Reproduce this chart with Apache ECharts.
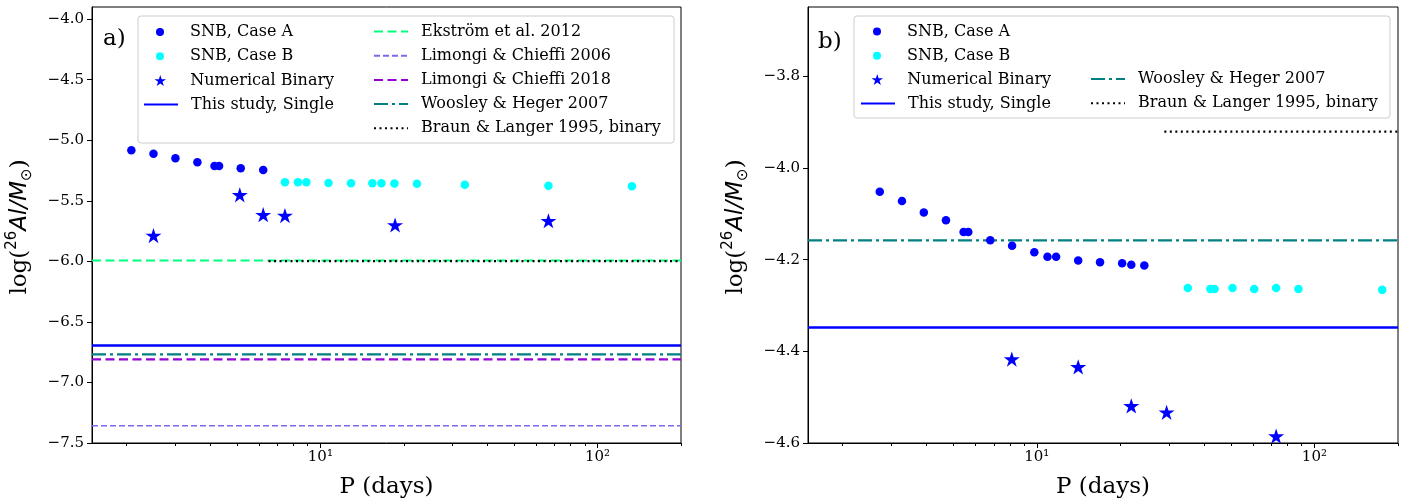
<!DOCTYPE html>
<html><head><meta charset="utf-8">
<script src="https://cdn.jsdelivr.net/npm/echarts@6.0.0/dist/echarts.min.js"></script>
<style>html,body{margin:0;padding:0;background:#fff}#c{width:1406px;height:504px}</style>
</head><body><div id="c"></div>
<script>
// ---------- data: panel a ----------
const aCaseA_P = [2.08, 2.5, 3.0, 3.6, 4.15, 4.31, 5.16, 6.22];
const aCaseA_Y = [-5.083, -5.112, -5.148, -5.181, -5.213, -5.213, -5.231, -5.246];
const aCaseB_P = [7.45, 8.3, 8.9, 10.7, 12.9, 15.4, 16.6, 18.5, 22.3, 33.2, 66.5, 133];
const aCaseB_Y = [-5.347, -5.347, -5.348, -5.353, -5.355, -5.356, -5.356, -5.357, -5.36, -5.368, -5.375, -5.38];
const aStar_P = [2.5, 5.12, 6.22, 7.45, 18.6, 66.5];
const aStar_Y = [-5.787, -5.451, -5.615, -5.622, -5.7, -5.665];
const aThisStudy = -6.695;
const aEkstrom = -5.993;
const aLimongi2006 = -7.357;
const aLimongi2018 = -6.81;
const aWoosley = -6.769;
const aBraun = -5.998;
const aBraunStartP = 6.5;

// ---------- data: panel b ----------
const bCaseA_P = [2.72, 3.27, 3.92, 4.71, 5.45, 5.67, 6.8, 8.15, 9.8, 10.93, 11.74, 14.1, 16.9, 20.3, 21.9, 24.4];
const bCaseA_Y = [-4.052, -4.072, -4.097, -4.114, -4.14, -4.14, -4.158, -4.17, -4.184, -4.194, -4.194, -4.202, -4.206, -4.208, -4.211, -4.213];
const bCaseB_P = [35.0, 42.2, 43.7, 50.7, 60.7, 72.8, 87.6, 175.5];
const bCaseB_Y = [-4.262, -4.264, -4.264, -4.262, -4.264, -4.262, -4.264, -4.266];
const bStar_P = [8.13, 14.1, 21.9, 29.35, 72.8];
const bStar_Y = [-4.417, -4.434, -4.519, -4.533, -4.585];
const bThisStudy = -4.348;
const bWoosley = -4.158;
const bBraun = -3.921;
const bBraunStartP = 28.8;

// ---------- axes ----------
const xMin = 1.5, xMax = 200;
const xMajor = [10, 100];
const xMajorLabels = ['10\u00B9', '10\u00B2'];
const xMinor = [2,3,4,5,6,7,8,9,20,30,40,50,60,70,80,90,200];
const aYMin = -7.5, aYMax = -3.9;
const aYTicks = [-7.5, -7.0, -6.5, -6.0, -5.5, -5.0, -4.5, -4.0];
const bYMin = -4.6, bYMax = -3.649;
const bYTicks = [-4.6, -4.4, -4.2, -4.0, -3.8];

const SERIF = 'DejaVu Serif';
const SANS = 'DejaVu Sans';
const zip = (a, b) => a.map((v, i) => [v, b[i]]);
const STAR = 'path://M0,-10L2.245,-3.09L9.511,-3.09L3.633,1.18L5.878,8.09L0,3.82L-5.878,8.09L-3.633,1.18L-9.511,-3.09L-2.245,-3.09Z';

const C = {
  blue: '#0000ff', cyan: '#00ffff', green: '#00ff7f', lim06: '#7b68ee',
  lim18: '#9400d3', teal: '#008080', black: '#000000'
};
const LS = {
  this: {color: C.blue, width: 2.5, type: 'solid'},
  ek: {color: C.green, width: 2.2, type: [9, 4.5]},
  l06: {color: C.lim06, width: 1.5, type: [6, 3]},
  l18: {color: C.lim18, width: 2.2, type: [9, 4.5]},
  wh: {color: C.teal, width: 2.2, type: [14, 4, 3, 4]},
  br: {color: C.black, width: 2.2, type: [2, 3.5]}
};

function xAxes(gi) {
  return [{
    type: 'log', logBase: 10, gridIndex: gi, min: xMin, max: xMax, position: 'bottom',
    axisLine: {show: true, lineStyle: {color: '#000', width: 1}},
    axisTick: {show: true, length: 5, customValues: xMajor, lineStyle: {color: '#000'}},
    axisLabel: {customValues: xMajor, formatter: v => xMajorLabels[xMajor.indexOf(Math.round(v))] || '',
      fontFamily: SERIF, fontSize: 15, color: '#000', margin: 7},
    splitLine: {show: false},
    name: 'P (days)', nameLocation: 'middle', nameGap: 33,
    nameTextStyle: {fontFamily: SERIF, fontSize: 23, color: '#000'}
  }, {
    type: 'log', logBase: 10, gridIndex: gi, min: xMin, max: xMax, position: 'bottom',
    axisLine: {show: false},
    axisTick: {show: true, length: 3, customValues: xMinor, lineStyle: {color: '#000'}},
    axisLabel: {show: false}, splitLine: {show: false}
  }];
}
function yAxis(gi, mn, mx, ticks) {
  return {
    type: 'value', gridIndex: gi, min: mn, max: mx,
    axisLine: {show: true, lineStyle: {color: '#000', width: 1}},
    axisTick: {show: true, length: 5, customValues: ticks, lineStyle: {color: '#000'}},
    axisLabel: {customValues: ticks, formatter: v => v.toFixed(1).replace('-', '\u2212'),
      fontFamily: SERIF, fontSize: 15, color: '#000', margin: 8},
    splitLine: {show: false}
  };
}
function scatter(name, xi, yi, P, Y, color, sym, size) {
  return {type: 'scatter', name, xAxisIndex: xi, yAxisIndex: yi, data: zip(P, Y),
    symbol: sym, symbolSize: size, symbolKeepAspect: true,
    itemStyle: {color, opacity: 1}, z: 4, silent: true};
}
function hline(name, xi, yi, x0, y, ls) {
  return {type: 'line', name, xAxisIndex: xi, yAxisIndex: yi, data: [[x0, y], [xMax, y]],
    symbol: 'none', showSymbol: false, lineStyle: ls, itemStyle: {color: ls.color},
    z: 3, silent: true};
}

const series = [
  hline('Ekstr\u00F6m et al. 2012', 0, 0, xMin, aEkstrom, LS.ek),
  hline('Limongi & Chieffi 2006', 0, 0, xMin, aLimongi2006, LS.l06),
  hline('Limongi & Chieffi 2018', 0, 0, xMin, aLimongi2018, LS.l18),
  hline('Woosley & Heger 2007', 0, 0, xMin, aWoosley, LS.wh),
  hline('Braun & Langer 1995, binary', 0, 0, aBraunStartP, aBraun, LS.br),
  hline('This study, Single', 0, 0, xMin, aThisStudy, LS.this),
  scatter('SNB, Case A', 0, 0, aCaseA_P, aCaseA_Y, C.blue, 'circle', 8.5),
  scatter('SNB, Case B', 0, 0, aCaseB_P, aCaseB_Y, C.cyan, 'circle', 8.5),
  scatter('Numerical Binary', 0, 0, aStar_P, aStar_Y, C.blue, STAR, 16),

  hline('Woosley & Heger 2007', 2, 1, xMin, bWoosley, LS.wh),
  hline('Braun & Langer 1995, binary', 2, 1, bBraunStartP, bBraun, LS.br),
  hline('This study, Single', 2, 1, xMin, bThisStudy, LS.this),
  scatter('SNB, Case A', 2, 1, bCaseA_P, bCaseA_Y, C.blue, 'circle', 8.5),
  scatter('SNB, Case B', 2, 1, bCaseB_P, bCaseB_Y, C.cyan, 'circle', 8.5),
  scatter('Numerical Binary', 2, 1, bStar_P, bStar_Y, C.blue, STAR, 16)
];

function legend(names, left, top, h, lineOnly) {
  const l = {
    data: names, left, top, orient: 'vertical', padding: 0, itemGap: 4.2,
    itemWidth: 34, itemHeight: h, selectedMode: false, z: 20,
    textStyle: {fontFamily: SERIF, fontSize: 16, color: '#000', lineHeight: 20, padding: [0, 0, 0, 8]}
  };
  if (lineOnly) l.itemStyle = {opacity: 0, borderWidth: 0};
  return l;
}

const yLabelRich = {
  n: {fontFamily: SERIF, fontSize: 23, fill: '#000', lineHeight: 30},
  sup: {fontFamily: SANS, fontSize: 15, fill: '#000', lineHeight: 15, verticalAlign: 'top'},
  it: {fontFamily: SANS, fontStyle: 'italic', fontSize: 23, fill: '#000', lineHeight: 30},
  sub: {fontFamily: SANS, fontSize: 15, fill: '#000', lineHeight: 15, verticalAlign: 'bottom'}
};
const yLabelText = '{n|log(}{sup|26}{it|Al/M}{sub|\u2299}{n|)}';

const option = {
  animation: false,
  backgroundColor: '#fff',
  grid: [
    {left: 92, top: 7, width: 589, height: 439, show: true, borderColor: '#000', borderWidth: 1, backgroundColor: 'transparent'},
    {left: 808, top: 7, width: 590, height: 439, show: true, borderColor: '#000', borderWidth: 1, backgroundColor: 'transparent'}
  ],
  xAxis: [...xAxes(0), ...xAxes(1)],
  yAxis: [yAxis(0, aYMin, aYMax, aYTicks), yAxis(1, bYMin, bYMax, bYTicks)],
  legend: [
    legend(['SNB, Case A', 'SNB, Case B'], 156, 22, 8),
    legend(['Numerical Binary'], 154.5, 70.5, 11),
    legend(['This study, Single'], 143, 94.5, 8, true),
    legend(['Ekstr\u00F6m et al. 2012', 'Limongi & Chieffi 2006', 'Limongi & Chieffi 2018', 'Woosley & Heger 2007', 'Braun & Langer 1995, binary'], 373, 21.5, 8, true),
    legend(['SNB, Case A', 'SNB, Case B'], 873, 21.5, 8),
    legend(['Numerical Binary'], 871.5, 69.5, 11),
    legend(['This study, Single'], 860, 93.5, 8, true),
    legend(['Woosley & Heger 2007', 'Braun & Langer 1995, binary'], 1090, 69, 8, true)
  ],
  graphic: [
    {type: 'rect', z: 10, shape: {x: 138, y: 16, width: 536, height: 127, r: 3},
      style: {fill: 'rgba(255,255,255,0.8)', stroke: '#cccccc', lineWidth: 1}},
    {type: 'rect', z: 10, shape: {x: 854, y: 16, width: 536, height: 102, r: 3},
      style: {fill: 'rgba(255,255,255,0.8)', stroke: '#cccccc', lineWidth: 1}},
    {type: 'text', z: 15, x: 103, y: 39, style: {text: 'a)', fontFamily: SERIF, fontSize: 23, fill: '#000', verticalAlign: 'middle'}},
    {type: 'text', z: 15, x: 818, y: 42, style: {text: 'b)', fontFamily: SERIF, fontSize: 23, fill: '#000', verticalAlign: 'middle'}},
    {type: 'text', z: 15, x: 20, y: 227, rotation: Math.PI / 2,
      style: {text: yLabelText, rich: yLabelRich, align: 'center', verticalAlign: 'middle'}},
    {type: 'text', z: 15, x: 736, y: 227, rotation: Math.PI / 2,
      style: {text: yLabelText, rich: yLabelRich, align: 'center', verticalAlign: 'middle'}}
  ],
  series
};
echarts.init(document.getElementById('c'), null, {renderer: 'canvas'}).setOption(option);
</script>
</body></html>
